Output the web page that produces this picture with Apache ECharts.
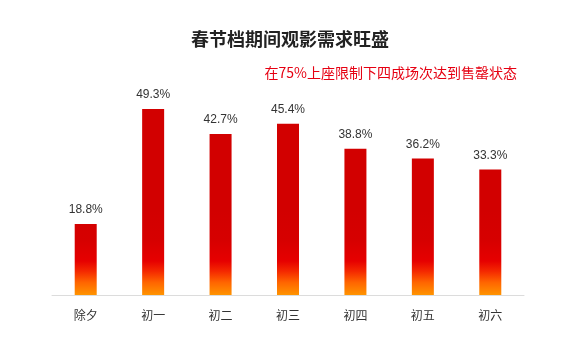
<!DOCTYPE html>
<html><head><meta charset="utf-8">
<script src="https://cdn.jsdelivr.net/npm/echarts@6/dist/echarts.min.js"></script>
<style>html,body{margin:0;padding:0;background:#fff}#c{width:580px;height:358px}</style>
</head><body><div id="c"></div>
<script>
var categories = ['除夕','初一','初二','初三','初四','初五','初六'];
var values = [18.8, 49.3, 42.7, 45.4, 38.8, 36.2, 33.3];
var titleText = '春节档期间观影需求旺盛';
var subText = '在75%上座限制下四成场次达到售罄状态';

var chart = echarts.init(document.getElementById('c'));
var grad = new echarts.graphic.LinearGradient(0, 210, 0, 295, [
  {offset: 0, color: '#d20000'},
  {offset: 0.35, color: '#d60000'},
  {offset: 0.6, color: '#e60000'},
  {offset: 0.72, color: '#f42800'},
  {offset: 0.85, color: '#ff6400'},
  {offset: 1, color: '#ff9400'}
], true);
chart.setOption({
  animation: false,
  title: [
    {text: titleText, left: 'center', top: 25, textStyle: {fontSize: 18, fontWeight: 'bold', color: '#222', fontFamily: 'Noto Sans CJK SC'}},
    {text: subText, right: 58, top: 61, textStyle: {fontSize: 14, fontWeight: 'normal', color: '#e60012', fontFamily: 'Noto Sans CJK SC'}}
  ],
  grid: {left: 52, right: 56, top: 106.4, bottom: 63},
  xAxis: {
    type: 'category', data: categories,
    axisLine: {lineStyle: {color: '#dcdcdc'}},
    axisTick: {show: false},
    axisLabel: {color: '#333', fontSize: 12, margin: 14, fontFamily: 'Noto Sans CJK SC'}
  },
  yAxis: {type: 'value', min: 0, max: 50, show: false, splitLine: {show: false}},
  series: [{
    type: 'bar', data: values, barWidth: 22,
    itemStyle: {color: grad},
    label: {show: true, position: 'top', distance: 8, formatter: '{c}%', color: '#333', fontSize: 12, fontFamily: 'Liberation Sans'}
  }]
});
</script></body></html>
